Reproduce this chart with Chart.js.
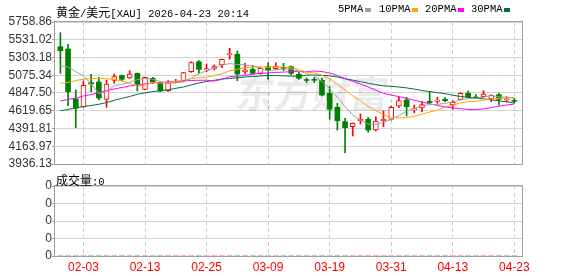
<!DOCTYPE html>
<html>
<head>
<meta charset="utf-8">
<script src="https://cdn.jsdelivr.net/npm/chart.js@4.4.1/dist/chart.umd.min.js"></script>
<style>
  html, body { margin: 0; padding: 0; background: #fff; }
  #wrap { position: relative; width: 578px; height: 276px; overflow: hidden; }
  canvas { position: absolute; left: 0; top: 0; }
  .t { position: absolute; white-space: nowrap; font: 10.5px "Liberation Mono", monospace; line-height: 12px; color: #000; }
  .cjk { font: 12px "Noto Sans CJK SC", sans-serif; }
  .sq { position: absolute; width: 6px; height: 4px; }
</style>
</head>
<body>
<div id="wrap">
  <canvas id="price" width="578" height="276"></canvas>
  <canvas id="vol" width="578" height="276"></canvas>
  <div class="t" style="left:56px; top:3px;"><span class="cjk">黄金</span>/<span class="cjk">美元</span>[XAU] 2026-04-23 20:14</div>
  <div class="t" style="left:338px; top:3px;">5PMA</div>
  <div class="sq" style="left:365px; top:8px; background:#a0a0a0;"></div>
  <div class="t" style="left:379px; top:3px;">10PMA</div>
  <div class="sq" style="left:412px; top:8px; background:#ffa500;"></div>
  <div class="t" style="left:425px; top:3px;">20PMA</div>
  <div class="sq" style="left:458px; top:8px; background:#ff00ff;"></div>
  <div class="t" style="left:471px; top:3px;">30PMA</div>
  <div class="sq" style="left:504px; top:8px; background:#00703c;"></div>
  <div class="t" style="left:56px; top:171px;"><span class="cjk">成交量</span>:0</div>
</div>
<script>
const dates = ['01-29','01-30','02-02','02-03','02-04','02-05','02-06','02-09','02-10','02-11',
  '02-12','02-13','02-16','02-17','02-18','02-19','02-20','02-23','02-24','02-25',
  '02-26','02-27','03-02','03-03','03-04','03-05','03-06','03-09','03-10','03-11',
  '03-12','03-13','03-16','03-17','03-18','03-19','03-20','03-23','03-24','03-25',
  '03-26','03-27','03-30','03-31','04-01','04-02','04-06','04-07','04-08','04-09',
  '04-10','04-13','04-14','04-15','04-16','04-17','04-20','04-21','04-22','04-23'];

const openP = [5441.8, 5412.3, 4770.5, 4671.6, 4979.7, 4988.7, 4766.6, 5010.5, 5072.2, 5040.1,
  5100.4, 4895.0, 5036.2, 4979.7, 4877.0, 4984.9, 5005.4, 5120.9, 5249.3, 5142.7,
  5164.5, 5206.9, 5339.1, 5344.3, 5120.9, 5151.7, 5100.4, 5185.1, 5159.4, 5177.4,
  5185.1, 5087.5, 5014.4, 5018.2, 5010.5, 4843.6, 4664.0, 4479.1, 4415.0, 4492.0,
  4509.9, 4372.6, 4492.0, 4509.9, 4680.6, 4757.7, 4629.3, 4654.9, 4741.0, 4741.0,
  4766.6, 4693.5, 4766.6, 4843.6, 4792.3, 4800.0, 4774.3, 4825.7, 4757.7, 4748.7];
const highP = [5621.5, 5472.6, 4886.0, 5001.5, 5087.5, 5049.0, 5014.4, 5091.4, 5076.0, 5133.8,
  5104.2, 5052.9, 5049.0, 4992.5, 5005.4, 5023.4, 5112.0, 5249.3, 5262.1, 5219.7,
  5206.9, 5284.0, 5421.3, 5386.6, 5228.7, 5203.1, 5172.2, 5236.4, 5236.4, 5228.7,
  5194.0, 5120.9, 5040.1, 5049.0, 5036.2, 4928.4, 4715.3, 4522.7, 4462.0, 4577.9,
  4535.6, 4543.3, 4620.3, 4680.6, 4792.3, 4792.3, 4693.5, 4735.8, 4864.2, 4792.3,
  4792.3, 4748.7, 4851.4, 4873.2, 4825.7, 4877.0, 4825.7, 4843.6, 4800.0, 4779.5];
const lowP = [5100.4, 4684.5, 4402.1, 4663.9, 4864.2, 4757.7, 4664.0, 4972.0, 5005.4, 5033.6,
  4873.2, 4886.0, 4972.0, 4864.2, 4869.3, 4979.7, 4997.7, 5113.2, 5100.4, 5120.9,
  5142.7, 5172.2, 5280.1, 5005.4, 5091.4, 5091.4, 5087.5, 5023.4, 5142.7, 5133.8,
  5078.6, 5023.4, 4979.7, 4979.7, 4809.0, 4510.0, 4372.6, 4081.2, 4295.6, 4449.6,
  4343.1, 4359.7, 4415.0, 4500.9, 4663.9, 4552.3, 4594.6, 4607.5, 4715.3, 4715.3,
  4735.8, 4638.3, 4757.7, 4788.0, 4774.3, 4792.3, 4735.8, 4693.5, 4735.8, 4715.3];
const closeP = [5390.5, 4864.2, 4651.1, 4946.3, 4963.0, 4783.3, 4963.0, 5057.2, 5023.4, 5091.4,
  4963.0, 5049.0, 4988.7, 4873.2, 4972.0, 5001.5, 5108.1, 5236.4, 5151.7, 5159.4,
  5185.1, 5280.1, 5348.1, 5091.4, 5142.7, 5100.4, 5164.5, 5142.7, 5194.0, 5164.5,
  5100.4, 5036.2, 5008.0, 5010.5, 4821.8, 4638.3, 4491.9, 4402.1, 4458.6, 4509.9,
  4372.6, 4488.1, 4509.9, 4663.9, 4748.7, 4671.6, 4646.0, 4699.9, 4725.6, 4757.7,
  4748.7, 4728.1, 4843.6, 4792.3, 4783.3, 4834.7, 4818.0, 4766.6, 4766.6, 4741.0];

const ma5 = [5197.9, 5181.2, 5123.5, 5065.7, 4963.0, 4841.1, 4861.6, 4942.5, 4957.9, 4983.6,
  5019.5, 5036.2, 5023.4, 4992.6, 4969.5, 4977.1, 4988.7, 5038.8, 5094.0, 5131.2,
  5168.4, 5203.1, 5224.9, 5213.3, 5209.5, 5192.8, 5169.7, 5128.6, 5149.1, 5153.0,
  5153.0, 5127.3, 5100.4, 5064.4, 4995.1, 4902.7, 4793.6, 4672.9, 4562.5, 4499.6,
  4447.0, 4445.7, 4467.6, 4508.6, 4556.2, 4616.5, 4648.5, 4685.8, 4698.6, 4699.9,
  4716.2, 4732.0, 4760.2, 4774.3, 4779.5, 4796.2, 4814.1, 4798.7, 4793.6, 4785.9];
const ma10 = [4972.0, 4982.3, 5008.0, 5023.4, 5033.6, 5036.2, 5029.8, 5023.4, 5001.5, 4973.3,
  4930.9, 4948.9, 4982.3, 4975.9, 4975.9, 4997.7, 5013.1, 5031.1, 5043.9, 5050.3,
  5072.2, 5095.2, 5131.2, 5153.0, 5171.0, 5180.0, 5186.4, 5176.1, 5181.2, 5181.2,
  5172.2, 5147.9, 5114.5, 5106.8, 5074.7, 5028.5, 4960.5, 4887.3, 4812.9, 4747.4,
  4675.5, 4620.3, 4570.2, 4535.6, 4527.9, 4531.7, 4547.1, 4576.7, 4603.6, 4628.0,
  4666.5, 4689.6, 4723.0, 4735.8, 4739.7, 4756.4, 4773.1, 4779.5, 4783.3, 4782.0];
const ma20 = [4744.8, 4764.1, 4783.3, 4809.0, 4828.2, 4853.9, 4879.6, 4898.8, 4918.1, 4937.3,
  4950.2, 4963.0, 4975.9, 4982.3, 4988.7, 4995.1, 5001.5, 5008.0, 5010.5, 5011.8,
  5001.5, 5022.1, 5056.8, 5064.4, 5073.4, 5088.8, 5099.1, 5104.2, 5111.9, 5115.8,
  5122.2, 5122.2, 5123.5, 5129.9, 5122.2, 5104.2, 5073.4, 5031.1, 4996.4, 4964.3,
  4924.5, 4884.7, 4842.4, 4820.5, 4801.3, 4779.5, 4753.8, 4732.0, 4708.9, 4688.3,
  4670.4, 4655.0, 4647.3, 4635.8, 4634.5, 4643.5, 4660.1, 4678.1, 4693.5, 4705.1];
const ma30 = [4620.3, 4635.8, 4658.8, 4674.2, 4687.1, 4702.5, 4725.6, 4753.8, 4779.5, 4802.6,
  4830.8, 4850.1, 4865.5, 4877.0, 4888.6, 4907.8, 4924.5, 4950.2, 4975.9, 4995.1,
  5010.5, 5027.2, 5033.6, 5042.6, 5052.9, 5059.3, 5065.7, 5072.2, 5072.2, 5068.3,
  5063.1, 5064.4, 5076.0, 5078.6, 5073.4, 5068.3, 5052.9, 5031.1, 5013.1, 4992.6,
  4973.3, 4955.4, 4938.6, 4932.2, 4924.5, 4913.0, 4897.6, 4879.6, 4865.5, 4852.6,
  4838.5, 4819.3, 4802.6, 4792.3, 4780.8, 4771.8, 4760.2, 4747.4, 4733.2, 4719.2];

const volume = [0, 0, 0, 0, 0, 0, 0, 0, 0, 0, 0, 0, 0, 0, 0, 0, 0, 0, 0, 0,
  0, 0, 0, 0, 0, 0, 0, 0, 0, 0, 0, 0, 0, 0, 0, 0, 0, 0, 0, 0,
  0, 0, 0, 0, 0, 0, 0, 0, 0, 0, 0, 0, 0, 0, 0, 0, 0, 0, 0, 0];

const priceTicks = [5758.86, 5531.02, 5303.18, 5075.34, 4847.50, 4619.65, 4391.81, 4163.97, 3936.13];
const volTickLabels = ['0', '0', '0', '0', '0'];
const dateTicks = ['02-03', '02-13', '02-25', '03-09', '03-19', '03-31', '04-13', '04-23'];

const RED = '#ff0000';
const GREEN = '#008000';
const GRID = '#d4d4d4';
const VGRID = '#cccccc';
const FRAME = '#a0a0a0';
const X_MIN = -0.7, X_MAX = 60;

const idx = dates.map((d, i) => i);
const tickIdx = dateTicks.map(d => dates.indexOf(d));
const up = idx.map(i => closeP[i] >= openP[i]);
const colorOf = i => up[i] ? RED : GREEN;

// frame around the plot area
const framePlugin = {
  id: 'frame',
  afterDatasetsDraw(chart) {
    const { ctx, chartArea: a } = chart;
    ctx.save();
    ctx.strokeStyle = FRAME;
    ctx.lineWidth = 1;
    ctx.strokeRect(Math.round(a.left) - 0.5, Math.round(a.top) - 0.5,
      Math.round(a.right - a.left) + 1, Math.round(a.bottom - a.top) + 1);
    ctx.restore();
  }
};

// faint site watermark behind the candles
const watermarkPlugin = {
  id: 'watermark',
  beforeDatasetsDraw(chart) {
    const { ctx } = chart;
    ctx.save();
    ctx.fillStyle = 'rgba(20,20,60,0.09)';
    ctx.font = 'bold 38px "Noto Sans CJK SC"';
    ctx.textBaseline = 'middle';
    ctx.setTransform(1, 0, -0.12, 1, 0, 0);
    ctx.fillText('东方财富', 248, 94);
    ctx.restore();
  }
};

const lineDs = (label, arr, color) => ({
  type: 'line', label, data: idx.map(i => ({ x: i, y: arr[i] })),
  borderColor: color, borderWidth: 1, pointRadius: 0, tension: 0, order: 0
});

const axisFont = { family: '"Liberation Sans", Arial, sans-serif', size: 12 };

new Chart(document.getElementById('price'), {
  type: 'bar',
  data: {
    datasets: [
      lineDs('5PMA', ma5, '#a0a0a0'),
      lineDs('10PMA', ma10, '#ffa500'),
      lineDs('20PMA', ma20, '#ff00ff'),
      lineDs('30PMA', ma30, '#00703c'),
      {
        label: 'body', data: idx.map(i => ({ x: i, y: [openP[i], closeP[i]] })),
        backgroundColor: idx.map(i => up[i] ? '#ffffff' : GREEN),
        borderColor: idx.map(colorOf),
        borderWidth: idx.map(i => up[i] ? 1 : 0),
        borderSkipped: false, barThickness: 5, minBarLength: 1, grouped: false, order: 1
      },
      {
        label: 'wick', data: idx.map(i => ({ x: i, y: [lowP[i], highP[i]] })),
        backgroundColor: idx.map(colorOf), borderWidth: 0,
        barThickness: 1, grouped: false, order: 2
      }
    ]
  },
  options: {
    responsive: false,
    animation: false,
    events: [],
    layout: { padding: { left: 0, top: 22, right: 56, bottom: 112 } },
    plugins: { legend: { display: false }, tooltip: { enabled: false } },
    scales: {
      x: {
        type: 'linear', min: X_MIN, max: X_MAX, offset: false,
        afterBuildTicks: s => { s.ticks = tickIdx.map(v => ({ value: v })); },
        afterFit: s => { s.height = 0; },
        ticks: { display: false },
        grid: { color: VGRID, drawTicks: false, offset: false },
        border: { display: false, dash: [4, 3] }
      },
      y: {
        type: 'linear', min: 3936.13, max: 5758.86,
        afterBuildTicks: s => { s.ticks = priceTicks.map(v => ({ value: v })); },
        afterFit: s => { s.width = 55; },
        ticks: { autoSkip: false, padding: 0, color: '#333', font: axisFont, callback: v => v.toFixed(2) },
        grid: { color: GRID, tickLength: 3, tickColor: FRAME },
        border: { display: false }
      }
    }
  },
  plugins: [watermarkPlugin, framePlugin]
});

new Chart(document.getElementById('vol'), {
  type: 'bar',
  data: {
    datasets: [{
      data: idx.map(i => ({ x: i, y: volume[i] })),
      backgroundColor: idx.map(colorOf), barThickness: 5
    }]
  },
  options: {
    responsive: false,
    animation: false,
    events: [],
    layout: { padding: { left: 0, top: 186, right: 56, bottom: 2 } },
    plugins: { legend: { display: false }, tooltip: { enabled: false } },
    scales: {
      x: {
        type: 'linear', min: X_MIN, max: X_MAX, offset: false,
        afterBuildTicks: s => { s.ticks = tickIdx.map(v => ({ value: v })); },
        afterFit: s => { s.height = 18; },
        ticks: { autoSkip: false, maxRotation: 0, padding: 4, color: RED, font: axisFont, callback: v => dates[v] },
        grid: { color: VGRID, drawTicks: false, offset: false },
        border: { display: false, dash: [4, 3] }
      },
      y: {
        type: 'linear', min: 0, max: 4,
        afterBuildTicks: s => { s.ticks = [4, 3, 2, 1, 0].map(v => ({ value: v })); },
        afterFit: s => { s.width = 55; },
        ticks: { autoSkip: false, padding: 0, color: '#333', font: axisFont, callback: (v, i) => volTickLabels[i] },
        grid: { color: GRID, tickLength: 3, tickColor: FRAME },
        border: { display: false }
      }
    }
  },
  plugins: [framePlugin]
});
</script>
</body>
</html>
